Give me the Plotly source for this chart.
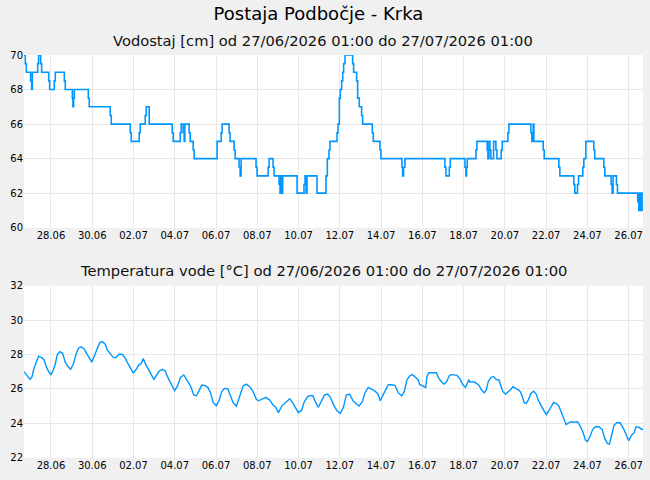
import pandas as pd
import plotly.graph_objects as go

START = "2026-06-26 16:40"
END = "2026-07-26 16:40"

# Water level (cm): change points (hours from START, value)
level_h = [0, 1.5, 2.7, 7.7, 8.9, 9.7, 15.9, 17.0, 19.4, 20.5, 28.7, 29.8, 35.2, 36.4, 46.9, 48.0,
           56.2, 56.9, 57.7, 58.5, 74.8, 75.9, 100.3, 101.5, 123.6, 124.7, 134.0, 135.2, 141.0, 142.2,
           145.6, 172.4, 173.5, 181.7, 182.8, 185.1, 186.3, 187.1, 192.1, 193.3, 196.8, 197.9,
           224.6, 229.3, 230.4, 238.6, 239.7, 244.4, 245.6, 250.2, 251.4, 252.5, 269.9, 271.1,
           283.9, 285.1, 289.7, 290.9, 296.7, 297.8, 298.6, 299.8, 300.9, 317.6, 325.7, 326.9,
           328.1, 329.2, 340.8, 351.3, 352.8, 354.8, 355.9, 364.1, 365.2, 366.8, 367.9, 369.5,
           370.7, 371.8, 373.4, 382.3, 383.4, 386.9, 388.1, 390.0, 392.7, 393.9, 405.1, 406.3,
           414.0, 415.2, 439.6, 440.4, 441.5, 443.1, 489.6, 490.8, 494.7, 495.8, 512.9, 514.0,
           514.8, 515.6, 525.7, 526.8, 538.8, 539.6, 540.8, 541.9, 543.1, 546.2, 548.9, 550.1,
           555.1, 556.3, 562.8, 564.0, 589.6, 590.7, 592.3, 593.1, 603.9, 605.1, 622.1, 623.3,
           639.5, 640.7, 643.8, 645.0, 650.0, 651.2, 653.5, 662.8, 663.9, 674.4, 675.6, 682.9,
           684.1, 685.2, 689.1, 690.3, 713.9, 715.1, 715.8, 717.4, 718.2, 718.9, 720]
level_v = [70, 69.5, 69, 68.5, 68, 69, 69.5, 70, 69.5, 69, 68.5, 68, 68.5, 69, 68.5, 68,
           67.5, 67, 67.5, 68, 67.5, 67, 66.5, 66, 65.5, 65, 65.5, 66, 66.5, 67,
           66, 65.5, 65, 65.5, 66, 65.5, 65, 66, 65.5, 65, 64.5, 64,
           65, 65.5, 66, 65.5, 65, 64.5, 64, 63.5, 63, 64, 63.5, 63,
           63.5, 64, 63.5, 63, 62.5, 62, 63, 62, 63, 62, 62.5, 63,
           62, 63, 62, 63, 64, 64.5, 65, 65.5, 66, 67.5, 68, 68.5,
           69, 69.5, 70, 69.5, 69, 68.5, 67.5, 67, 66.5, 66, 65.5, 65,
           64.5, 64, 63.5, 63, 63.5, 64, 63.5, 63, 63.5, 64, 63.5, 63,
           63.5, 64, 64.5, 65, 64.5, 64, 65, 64.5, 64, 65, 64.5, 64,
           64.5, 65, 65.5, 66, 65.5, 65, 66, 65, 64.5, 64, 63.5, 63,
           62.5, 62, 62.5, 63, 63.5, 64, 65, 64.5, 64, 63.5, 63, 62.5,
           62, 63, 62.5, 62, 61.5, 61, 62, 61, 62, 61, 61]

# Water temperature (°C): (hours from START, value)
temp_h = [0, 2.3, 3.9, 7.0, 9.3, 11.6, 13.9, 17.0, 20.9, 23.2, 26.3, 28.7, 31.4, 34.1, 36.4, 38.7,
          41.8, 44.9, 48.0, 51.1, 54.2, 57.3, 60.4, 63.5, 66.6, 69.7, 73.6, 76.7, 79.0, 82.1, 85.2,
          88.3, 91.4, 94.5, 96.8, 99.9, 103.8, 106.9, 110.8, 114.6, 117.7, 120.8, 123.9, 127.0,
          130.1, 133.2, 136.3, 138.7, 141.0, 144.1, 147.2, 151.1, 154.2, 157.3, 161.1, 164.2,
          167.3, 171.2, 175.1, 178.2, 182.0, 185.9, 189.8, 193.7, 197.5, 200.6, 203.7, 206.8,
          209.9, 213.8, 216.9, 220.0, 223.9,
          227.0, 230.1, 233.2, 237.0, 240.1, 243.2, 247.1, 251.0, 254.8, 258.7, 262.6, 266.5,
          270.3, 272.7, 276.5, 281.2, 285.8, 289.7, 292.8, 295.9, 299.8, 303.6, 306.0, 309.1,
          312.9, 316.8, 319.1, 323.0, 326.1, 330.0, 333.1, 336.2, 339.3, 342.4, 345.5, 349.4,
          353.2, 356.3, 360.2, 364.1, 368.0, 371.8, 374.9, 378.8, 382.7, 386.5, 389.6, 393.5,
          396.6, 400.5, 402.8, 407.5, 411.3, 414.4, 417.5, 420.6, 423.7, 427.6, 431.5, 435.3,
          439.2, 442.3, 445.4, 448.5, 451.6, 454.7, 458.6,
          460.2, 467.2, 468.7, 471.0, 479.6, 482.7, 485.8, 488.9, 491.2, 495.1, 497.4, 503.6,
          507.5, 510.6, 513.6, 516.0, 517.5, 518.3, 521.4, 525.3, 529.1, 532.2, 535.3, 537.7,
          540.0, 543.1, 546.2, 549.3, 552.4, 554.7, 557.0, 560.1, 563.2, 566.3, 568.6, 572.5,
          576.4, 578.7, 581.8, 584.1, 586.5, 589.6, 592.7, 595.8, 598.1, 601.2, 604.3, 607.4,
          610.5, 612.8, 615.9, 619.0, 622.1, 625.2, 628.3, 630.6, 633.7, 636.8, 639.9, 643.8,
          646.9, 650.0, 653.1, 655.4, 658.5, 661.6, 664.7, 668.6, 672.4, 675.5, 678.6, 681.0,
          683.3, 686.4, 689.5, 693.4, 697.2, 700.3, 703.4, 706.5, 709.6, 711.9, 715.8, 718.1, 720]
temp_v = [27.0, 26.86, 26.7, 26.55, 26.7, 27.2, 27.5, 27.9, 27.8, 27.7, 27.25, 27.0, 26.83, 27.1,
          27.45, 28.0, 28.16, 28.07, 27.55, 27.3, 27.14, 27.43, 28.0, 28.38, 28.45, 28.34, 27.99,
          27.76, 27.56, 27.95, 28.34, 28.72, 28.74, 28.6, 28.26, 28.07, 27.83, 27.81, 28.03, 28.0,
          27.78, 27.48, 27.17, 26.94, 27.1, 27.37, 27.48, 27.76, 27.48, 27.23, 26.9, 26.55, 26.79,
          27.04, 27.14, 27.04, 26.67, 26.28, 25.9, 26.13, 26.67, 26.81, 26.52, 26.17, 25.64, 25.6,
          25.9, 26.22, 26.2, 26.09, 25.78, 25.2, 25.02,
          25.35, 25.84, 26.03, 26.01, 25.59, 25.20, 25.0, 25.55, 26.17, 26.28, 26.13, 25.84, 25.39,
          25.31, 25.39, 25.51, 25.35, 25.06, 24.93, 24.62, 25.0, 25.20, 25.31, 25.43, 25.16, 24.81,
          24.62, 24.77, 25.26, 25.55, 25.62, 25.59, 25.20, 24.93, 25.26, 25.64, 25.70, 25.51, 25.06,
          24.73, 24.58, 24.97, 25.64, 25.70, 25.31, 25.12, 25.0, 25.24, 25.78, 26.09, 26.03, 25.90,
          25.74, 25.31, 25.64, 25.93, 26.24, 26.24, 26.21, 25.78, 25.59, 25.84, 26.52, 26.75, 26.83,
          26.71, 26.52,
          26.26, 26.09, 26.71, 26.94, 26.94, 26.59, 26.40, 26.28, 26.40, 26.79, 26.83, 26.79, 26.55,
          26.22, 26.09, 26.32, 26.55, 26.40, 26.42, 26.36, 26.22, 25.93, 25.78, 25.93, 26.42, 26.67,
          26.71, 26.55, 26.52, 26.17, 25.84, 25.70, 25.82, 25.97, 26.13, 26.03, 25.90, 25.70, 25.20,
          25.16, 25.35, 25.74, 25.86, 25.70, 25.35, 25.06, 24.77, 24.50, 24.73, 24.97, 25.20, 25.16,
          25.0, 24.62, 24.27, 23.92, 24.03, 24.09, 24.07, 24.09, 23.84, 23.51, 23.03, 22.93, 23.26,
          23.65, 23.80, 23.80, 23.65, 23.12, 22.83, 22.79, 23.26, 23.88, 24.03, 24.03, 23.71, 23.38,
          22.99, 23.30, 23.45, 23.80, 23.76, 23.65, 23.65]

TITLE = "Postaja Podbočje - Krka"
SUB1 = "Vodostaj [cm] od 27/06/2026 01:00 do 27/07/2026 01:00"
SUB2 = "Temperatura vode [°C] od 27/06/2026 01:00 do 27/07/2026 01:00"

t0 = pd.Timestamp(START)
level_x = t0 + pd.to_timedelta(level_h, unit="h")
temp_x = t0 + pd.to_timedelta(temp_h, unit="h")

LINE = "#0096ff"
FONT = "DejaVu Sans"
GRID = "#e8e8e8"

fig = go.Figure()
fig.add_trace(go.Scatter(x=level_x, y=level_v, mode="lines", line=dict(color=LINE, width=1.6, shape="hv"),
                         xaxis="x", yaxis="y", showlegend=False))
fig.add_trace(go.Scatter(x=temp_x, y=temp_v, mode="lines", line=dict(color=LINE, width=1.4),
                         xaxis="x2", yaxis="y2", showlegend=False))

W, H = 650, 480
xdom = [24 / W, 643 / W]
common_x = dict(type="date", range=[START, END], tickformat="%d.%m", dtick=2 * 86400000,
                tick0="2026-06-28", showgrid=True, gridcolor=GRID, gridwidth=1, zeroline=False,
                showline=False, ticks="", tickfont=dict(family=FONT, size=10, color="#000"),
                domain=xdom, fixedrange=True, automargin=False)
common_y = dict(showgrid=True, gridcolor=GRID, gridwidth=1, zeroline=False, showline=False,
                ticks="", dtick=2, tickfont=dict(family=FONT, size=10, color="#000"),
                fixedrange=True, automargin=False)

fig.update_layout(
    width=W, height=H,
    margin=dict(l=0, r=0, t=0, b=0, pad=0),
    paper_bgcolor="#f0f0f0", plot_bgcolor="#ffffff",
    title=dict(text=TITLE, x=0.49, xanchor="center", y=1 - 14 / H, yanchor="middle",
               font=dict(family=FONT, size=18, color="#000"), automargin=False),
    xaxis=dict(**common_x, anchor="y"),
    yaxis=dict(**common_y, range=[60, 70], domain=[1 - 227.7 / H, 1 - 55 / H], anchor="x"),
    xaxis2=dict(**common_x, anchor="y2"),
    yaxis2=dict(**common_y, range=[22, 32], domain=[1 - 457.7 / H, 1 - 285.7 / H], anchor="x2"),
    annotations=[
        dict(text=SUB1, x=0.497, y=1 - 40 / H, xref="paper", yref="paper", xanchor="center",
             yanchor="middle", showarrow=False, font=dict(family=FONT, size=14.7, color="#111")),
        dict(text=SUB2, x=0.497, y=1 - 270 / H, xref="paper", yref="paper", xanchor="center",
             yanchor="middle", showarrow=False, font=dict(family=FONT, size=14.7, color="#111")),
    ],
)

fig.write_html("out.html")
